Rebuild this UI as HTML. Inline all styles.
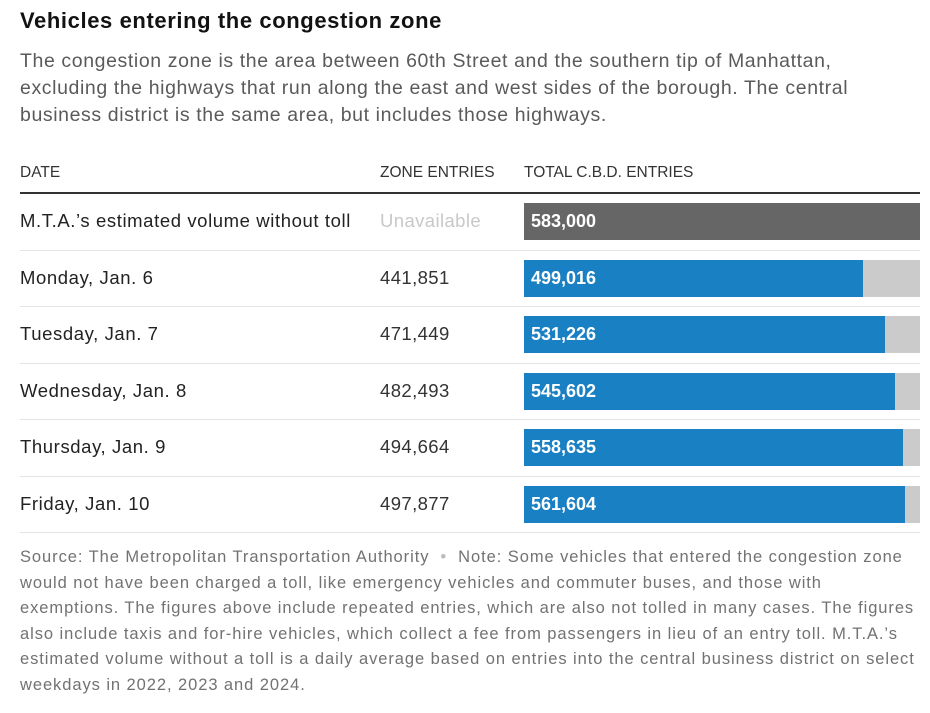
<!DOCTYPE html>
<html><head><meta charset="utf-8"><style>
body{margin:0;width:930px;height:713px;background:#fff;font-family:"Liberation Sans",Arial,sans-serif;color:#121212;position:relative;overflow:hidden}
.abs{position:absolute;white-space:nowrap}
#title{left:20px;top:8px;font-size:22px;font-weight:bold;color:#121212;letter-spacing:0.6px}
#sub{left:20px;top:48px;font-size:19.5px;line-height:27px;color:#5a5a5a;white-space:normal;width:880px;letter-spacing:0.6px}
.hdr{top:164px;font-size:15.5px;color:#333}
.lbl{font-size:18.5px;color:#222;letter-spacing:0.6px}
.num{font-size:18.5px;color:#333;letter-spacing:0.4px}
.sep{position:absolute;left:20px;width:900px;height:1px;background:#e4e4e4}
.bg{position:absolute;background:#cbcbcb;height:37px}
.bar{position:absolute;height:37px}
.val{position:absolute;color:#fff;font-weight:bold;font-size:18px;line-height:37px}
#note{left:20px;top:545px;font-size:16.5px;line-height:25.5px;color:#727272;white-space:normal;width:900px;letter-spacing:0.93px}
</style></head><body>
<div class="abs" id="title">Vehicles entering the congestion zone</div>
<div class="abs" id="sub">The congestion zone is the area between 60th Street and the southern tip of Manhattan, excluding the highways that run along the east and west sides of the borough. The central business district is the same area, but includes those highways.</div>
<div class="abs hdr" style="left:20px">DATE</div>
<div class="abs hdr" style="left:380px">ZONE ENTRIES</div>
<div class="abs hdr" style="left:524px">TOTAL C.B.D. ENTRIES</div>
<div style="position:absolute;left:20px;top:192px;width:900px;height:2px;background:#333"></div>
<div id="rows"></div>
<div class="abs" id="note">Source: The Metropolitan Transportation Authority <span style="color:#bbb">&nbsp;•&nbsp;</span> Note: Some vehicles that entered the congestion zone would not have been charged a toll, like emergency vehicles and commuter buses, and those with exemptions. The figures above include repeated entries, which are also not tolled in many cases. The figures also include taxis and for-hire vehicles, which collect a fee from passengers in lieu of an entry toll. M.T.A.’s estimated volume without a toll is a daily average based on entries into the central business district on select weekdays in 2022, 2023 and 2024.</div>
<script>
const labels=["M.T.A.’s estimated volume without toll","Monday, Jan. 6","Tuesday, Jan. 7","Wednesday, Jan. 8","Thursday, Jan. 9","Friday, Jan. 10"];
const zoneEntries=[null,441851,471449,482493,494664,497877];
const cbdEntries=[583000,499016,531226,545602,558635,561604];
const maxVal=583000;
const x0=524,w=396,top0=193,rowH=56.5;
const xs=v=>x0+v/maxVal*w;
const fmt=v=>v.toLocaleString('en-US');
const root=document.getElementById('rows');
labels.forEach((l,i)=>{
  const y=top0+i*rowH;
  const a=document.createElement('div');a.className='abs lbl';a.style.left='20px';a.style.top=(y+17)+'px';a.textContent=l;
  
  
  root.appendChild(a);
  const z=document.createElement('div');z.className='abs num';z.style.left='380px';z.style.top=(y+17)+'px';
  if(zoneEntries[i]==null){z.textContent='Unavailable';z.style.color='#c8c8c8';}else z.textContent=fmt(zoneEntries[i]);
  
  
  root.appendChild(z);
  const bg=document.createElement('div');bg.className='bg';bg.style.left=x0+'px';bg.style.width=w+'px';bg.style.top=(y+10)+'px';
  
  
  root.appendChild(bg);
  const b=document.createElement('div');b.className='bar';b.style.left=x0+'px';b.style.width=(xs(cbdEntries[i])-x0)+'px';b.style.top=(y+10)+'px';
  b.style.background=i==0?'#666666':'#1a80c4';
  
  
  root.appendChild(b);
  const t=document.createElement('div');t.className='val';t.style.left=(x0+7)+'px';t.style.top=(y+10)+'px';t.textContent=fmt(cbdEntries[i]);
  
  
  root.appendChild(t);
  const s=document.createElement('div');s.className='sep';s.style.top=(y+rowH)+'px';
  
  
  root.appendChild(s);
});
</script>
</body></html>
